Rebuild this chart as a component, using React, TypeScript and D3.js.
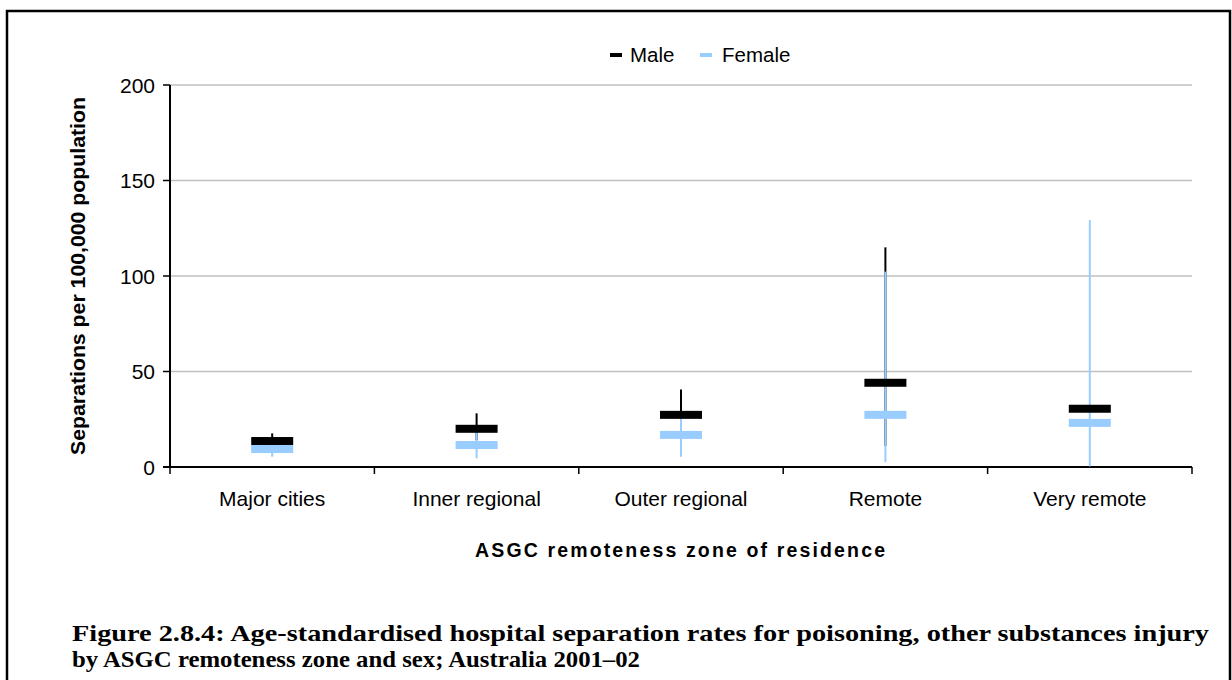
import React from "react";
import * as d3 from "d3";

const categories = ["Major cities", "Inner regional", "Outer regional", "Remote", "Very remote"];
const maleRate = [13.6, 20.0, 27.3, 44.1, 30.5];
const maleLow = [11, 14, 17, 11, 30.5];
const maleHigh = [17.6, 28.1, 40.6, 115, 30.5];
const femaleRate = [9.4, 11.5, 16.8, 27.3, 23.1];
const femaleLow = [5.4, 4.5, 5.4, 2.5, 0.3];
const femaleHigh = [13, 19, 26, 102.3, 129.3];
const yTicks = [0, 50, 100, 150, 200];

const MALE = "#000000";
const FEMALE = "#99ccff";

export default function App() {
  const W = 1232, H = 680;
  const left = 170, right = 1192, top = 85, bottom = 467;
  const x = d3.scaleBand<string>().domain(categories).range([left, right]).padding(0);
  const y = d3.scaleLinear().domain([0, 200]).range([bottom, top]);
  const cx = (c: string) => (x(c) as number) + x.bandwidth() / 2;
  const barW = 42, barH = 8;
  const font = "'Liberation Sans', Arial, sans-serif";
  const serif = "'Liberation Serif', serif";
  const boundaries = d3.range(categories.length + 1).map((i) => left + i * x.bandwidth());

  return (
    <svg width={W} height={H} style={{ position: "absolute", left: 0, top: 0, background: "#fff" }}>
      <rect x={7} y={11} width={1223} height={700} fill="#fff" stroke="#000" strokeWidth={2.5} />
      {yTicks.filter((t) => t > 0).map((t) => (
        <line key={t} x1={left} x2={right} y1={y(t)} y2={y(t)} stroke="#c0c0c0" strokeWidth={1.5} />
      ))}
      <line x1={left} x2={left} y1={top} y2={bottom} stroke="#000" strokeWidth={2} />
      {yTicks.map((t) => (
        <g key={t}>
          <line x1={left - 7} x2={left} y1={y(t)} y2={y(t)} stroke="#000" strokeWidth={1.5} />
          <text x={left - 15} y={y(t)} dy="0.36em" textAnchor="end" fontFamily={font} fontSize={21} fill="#000">
            {t}
          </text>
        </g>
      ))}
      <line x1={left - 7} x2={right} y1={bottom} y2={bottom} stroke="#000" strokeWidth={2} />
      {boundaries.map((b, i) => (
        <line key={i} x1={b} x2={b} y1={bottom} y2={bottom + 7} stroke="#000" strokeWidth={1.5} />
      ))}
      {categories.map((c) => (
        <text key={c} x={cx(c)} y={506} textAnchor="middle" fontFamily={font} fontSize={21} fill="#000">
          {c}
        </text>
      ))}
      {categories.map((c, i) => (
        <line key={"mw" + c} x1={cx(c)} x2={cx(c)} y1={y(maleLow[i])} y2={y(maleHigh[i])} stroke={MALE} strokeWidth={2} />
      ))}
      {categories.map((c, i) => (
        <line key={"fw" + c} x1={cx(c)} x2={cx(c)} y1={y(femaleLow[i])} y2={y(femaleHigh[i])} stroke={FEMALE} strokeWidth={2} />
      ))}
      {categories.map((c, i) => (
        <rect key={"mb" + c} x={cx(c) - barW / 2} y={y(maleRate[i]) - barH / 2} width={barW} height={barH} fill={MALE} />
      ))}
      {categories.map((c, i) => (
        <rect key={"fb" + c} x={cx(c) - barW / 2} y={y(femaleRate[i]) - barH / 2} width={barW} height={barH} fill={FEMALE} />
      ))}
      <rect x={610} y={53} width={12} height={4} fill={MALE} />
      <text x={630} y={62} fontFamily={font} fontSize={20.5} fill="#000">Male</text>
      <rect x={700} y={53} width={12} height={4} fill={FEMALE} />
      <text x={722} y={62} fontFamily={font} fontSize={20.5} fill="#000">Female</text>
      <text
        transform="translate(85,276) rotate(-90)"
        textAnchor="middle"
        fontFamily={font}
        fontSize={19.5}
        fontWeight="bold"
        textLength={358}
        lengthAdjust="spacingAndGlyphs"
        fill="#000"
      >
        Separations per 100,000 population
      </text>
      <text x={680} y={557} textAnchor="middle" fontFamily={font} fontSize={19.5} fontWeight="bold" textLength={410} lengthAdjust="spacing" fill="#000">
        ASGC remoteness zone of residence
      </text>
      <text x={72} y={641} fontFamily={serif} fontSize={24} fontWeight="bold" textLength={1137} lengthAdjust="spacingAndGlyphs" fill="#000">
        Figure 2.8.4: Age-standardised hospital separation rates for poisoning, other substances injury
      </text>
      <text x={72} y={667} fontFamily={serif} fontSize={24} fontWeight="bold" textLength={568} lengthAdjust="spacingAndGlyphs" fill="#000">
        by ASGC remoteness zone and sex; Australia 2001–02
      </text>
    </svg>
  );
}
